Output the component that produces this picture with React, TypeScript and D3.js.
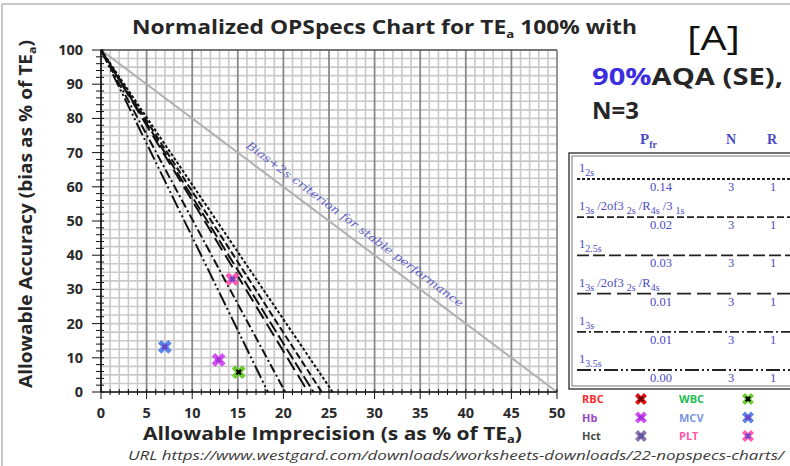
import * as d3 from "d3";

// OPSpecs operating lines: x-intercept (s as % of TEa) of each QC rule line from (0,100)
const ruleNames = ["1_2s", "multi4", "1_2.5s", "multi3", "1_3s", "1_3.5s"];
const ruleIntercepts = [25.4, 24.2, 23.3, 22.7, 20.2, 18.3];
const rulePfr = ["0.14", "0.02", "0.03", "0.01", "0.01", "0.00"];
const ruleN = ["3", "3", "3", "3", "3", "3"];
const ruleR = ["1", "1", "1", "1", "1", "1"];
const ruleDash = ["3,2", "7,3", "12,4", "14,6", "9,3,2,3", "14,3,2,3,2,3"];

// analytes plotted as (imprecision, bias)
const analytes = ["RBC", "WBC", "Hb", "MCV", "Hct", "PLT"];
const analyteS = [null, 15.1, 12.9, 7.0, 14.4, 14.4];
const analyteBias = [null, 5.8, 9.4, 13.2, 33.0, 33.0];
const analyteLabelColor = ["#ff2a2a", "#22bb55", "#9a44c8", "#7a98e0", "#4a4a4a", "#ff5aa8"];
const analyteFill = ["#e01010", "#6ccc2a", "#d050f0", "#5a86e8", "#8c78a8", "#ff5ab0"];
const analyteInner = ["#600000", "#000000", "#a030e0", "#7040c8", "#6050a0", "#6a48c8"];

const xTicks = d3.range(0, 51, 5);
const yTicks = d3.range(0, 101, 10);

const W = 790;
const H = 466;

const x = d3.scaleLinear().domain([0, 50]).range([101, 557]);
const y = d3.scaleLinear().domain([0, 100]).range([392, 50]);

const Sub = ({ children, size = 10 }: any) => (
  <tspan fontSize={size} dy={4}>
    {children}
  </tspan>
);
const Up = ({ children }: any) => (
  <tspan dy={-4} fontSize={12.5}>
    {children}
  </tspan>
);

const ruleLabel = (i: number) => {
  switch (i) {
    case 0:
      return [<tspan key="a">1</tspan>, <Sub key="b">2s</Sub>];
    case 1:
      return [
        <tspan key="a">1</tspan>,
        <Sub key="b">3s</Sub>,
        <Up key="c"> /2of3 </Up>,
        <Sub key="d">2s</Sub>,
        <Up key="e"> /R</Up>,
        <Sub key="f">4s</Sub>,
        <Up key="g"> /3 </Up>,
        <Sub key="h">1s</Sub>,
      ];
    case 2:
      return [<tspan key="a">1</tspan>, <Sub key="b">2.5s</Sub>];
    case 3:
      return [
        <tspan key="a">1</tspan>,
        <Sub key="b">3s</Sub>,
        <Up key="c"> /2of3 </Up>,
        <Sub key="d">2s</Sub>,
        <Up key="e"> /R</Up>,
        <Sub key="f">4s</Sub>,
      ];
    case 4:
      return [<tspan key="a">1</tspan>, <Sub key="b">3s</Sub>];
    default:
      return [<tspan key="a">1</tspan>, <Sub key="b">3.5s</Sub>];
  }
};

const Marker = ({ cx, cy, fill, inner, size = 110 }: any) => {
  const path = d3.symbol().type(d3.symbolCross).size(size)() as string;
  return (
    <g transform={`translate(${cx},${cy}) rotate(45)`}>
      <path d={path} fill={fill} />
      <path d="M-3.2,0H3.2M0,-3.2V3.2" stroke={inner} strokeWidth={2.2} />
    </g>
  );
};

export default function App() {
  const blue = "#4b4bc4";
  const sans = "'Open Sans', sans-serif";
  const minorX = d3.range(0, 50.01, 1);
  const minorY = d3.range(0, 100.01, 2.5);

  // diagonal "Bias+2s" label placement, just above the line
  const angle = (Math.atan2(y(0) - y(100), x(50) - x(0)) * 180) / Math.PI;
  const lx = x(27.85);
  const ly = y(49.1);

  return (
    <svg
      width={W}
      height={H}
      style={{ position: "absolute", left: 0, top: 0, background: "#fff" }}
    >
      <rect x={2} y={4} width={W + 10} height={H + 10} fill="none" stroke="#b8b8b8" strokeWidth={1.5} />

      {/* title */}
      <text
        x={132}
        y={34}
        textLength={505}
        lengthAdjust="spacingAndGlyphs"
        fontFamily={sans}
        fontWeight="bold"
        fontSize={19}
        fill="#262626"
      >
        Normalized OPSpecs Chart for TE
        <tspan fontSize={11} dy={4}>a</tspan>
        <tspan dy={-4}> 100% with</tspan>
      </text>
      <text x={687} y={50} fontFamily={sans} fontSize={32} textLength={53} lengthAdjust="spacingAndGlyphs" fill="#111">
        [A]
      </text>
      <text x={592} y={85} fontFamily={sans} fontWeight="bold" fontSize={24} textLength={191} lengthAdjust="spacingAndGlyphs" fill="#262626">
        <tspan fill="#3a2ee0">90%</tspan>AQA (SE),
      </text>
      <text x={592} y={119} fontFamily={sans} fontWeight="bold" fontSize={24} fill="#262626">
        N=3
      </text>

      {/* grid */}
      <g>
        {minorY.map((v) => (
          <line key={"gy" + v} x1={x(0)} x2={x(50)} y1={y(v)} y2={y(v)} stroke="#c9c9c9" strokeWidth={1.6} />
        ))}
        {minorX.map((v) => (
          <line
            key={"gx" + v}
            x1={x(v)}
            x2={x(v)}
            y1={y(0)}
            y2={y(100)}
            stroke={v % 5 === 0 ? "#8a8a8a" : "#c9c9c9"}
            strokeWidth={v % 5 === 0 ? 1.8 : 1.6}
          />
        ))}
        <line x1={x(0)} x2={x(50)} y1={y(100)} y2={y(100)} stroke="#555" strokeWidth={1.5} />
      </g>

      {/* bias + 2s line */}
      <line x1={x(0)} y1={y(100)} x2={x(50)} y2={y(0)} stroke="#b0b0b0" strokeWidth={2} />
      <text
        transform={`translate(${lx},${ly}) rotate(${angle})`}
        textAnchor="middle"
        dy={4}
        textLength={268}
        lengthAdjust="spacingAndGlyphs"
        fontFamily="'DejaVu Serif', serif"
        fontStyle="italic"
        fontSize={11}
        fill={blue}
        opacity={0.85}
      >
        Bias+2s criterion for stable performance
      </text>

      {/* operating lines */}
      {ruleIntercepts.map((xi, i) => (
        <line
          key={ruleNames[i]}
          x1={x(0)}
          y1={y(100)}
          x2={x(xi)}
          y2={y(0)}
          stroke="#111"
          strokeWidth={2}
          strokeDasharray={ruleDash[i]}
        />
      ))}

      {/* axes */}
      <g stroke="#111">
        <line x1={x(0)} x2={x(50)} y1={y(0)} y2={y(0)} strokeWidth={1.5} />
        <line x1={x(0)} x2={x(0)} y1={y(0)} y2={y(100)} strokeWidth={1.5} />
        {minorX.map((v) => (
          <line
            key={"tx" + v}
            x1={x(v)}
            x2={x(v)}
            y1={y(0) - 3}
            y2={y(0) + (v % 5 === 0 ? 7 : 3)}
            strokeWidth={1}
          />
        ))}
        {d3.range(0, 100.01, 2).map((v) => (
          <line
            key={"ty" + v}
            x1={x(0) - (v % 10 === 0 ? 9 : 5)}
            x2={x(0) + 3}
            y1={y(v)}
            y2={y(v)}
            strokeWidth={1}
          />
        ))}
      </g>
      <g fontFamily={sans} fontWeight="bold" fontSize={14.5} fill="#2a2a2a">
        {xTicks.map((v) => (
          <text key={"lx" + v} x={x(v)} y={418} textAnchor="middle">
            {v}
          </text>
        ))}
        {yTicks.map((v) => (
          <text key={"ly" + v} x={83} y={y(v) + 5} textAnchor="end">
            {v}
          </text>
        ))}
      </g>
      <text
        transform={`translate(32,${388}) rotate(-90)`}
        textLength={348}
        lengthAdjust="spacingAndGlyphs"
        fontFamily={sans}
        fontWeight="bold"
        fontSize={17}
        fill="#262626"
      >
        Allowable Accuracy (bias as % of TE
        <tspan fontSize={11} dy={4}>a</tspan>
        <tspan dy={-4}>)</tspan>
      </text>
      <text
        x={143}
        y={440}
        textLength={379}
        lengthAdjust="spacingAndGlyphs"
        fontFamily={sans}
        fontWeight="bold"
        fontSize={18}
        fill="#262626"
      >
        Allowable Imprecision (s as % of TE
        <tspan fontSize={11} dy={3}>a</tspan>
        <tspan dy={-3}>)</tspan>
      </text>
      <text
        x={128}
        y={460}
        textLength={656}
        lengthAdjust="spacingAndGlyphs"
        fontFamily={sans}
        fontStyle="italic"
        fontSize={12.5}
        fill="#3a3a3a"
      >
        URL https://www.westgard.com/downloads/worksheets-downloads/22-nopspecs-charts/
      </text>

      {/* analyte points */}
      {analytes.map((a, i) =>
        analyteS[i] == null ? null : (
          <Marker
            key={"p" + a}
            cx={x(analyteS[i] as number)}
            cy={y(analyteBias[i] as number)}
            fill={analyteFill[i]}
            inner={analyteInner[i]}
            size={a === "Hct" ? 60 : 120}
          />
        )
      )}

      {/* rule table */}
      <g fontFamily="'Liberation Serif', 'DejaVu Serif', serif" fontWeight="bold" fill={blue}>
        <text x={640} y={144} fontSize={15}>
          P<tspan fontSize={10} dy={4}>fr</tspan>
        </text>
        <text x={726} y={144} fontSize={14}>N</text>
        <text x={767} y={144} fontSize={14}>R</text>
      </g>
      <rect x={569} y={153} width={240} height={236} fill="none" stroke="#444" strokeWidth={1.5} />
      <rect x={572} y={156} width={240} height={230} fill="none" stroke="#777" strokeWidth={1} />
      {ruleNames.map((r, i) => {
        const top = 160 + i * 38.2;
        return (
          <g key={"row" + r}>
            <text x={579} y={top + 12} fontFamily="'Liberation Serif', serif" fontSize={12.5} fill={blue}>
              {ruleLabel(i)}
            </text>
            <line x1={577} x2={790} y1={top + 19} y2={top + 19} stroke="#222" strokeWidth={1.8} strokeDasharray={ruleDash[i]} />
            <g fontFamily="'Liberation Serif', serif" fontSize={12.5} fill={blue} textAnchor="middle">
              <text x={661} y={top + 31}>{rulePfr[i]}</text>
              <text x={731} y={top + 31}>{ruleN[i]}</text>
              <text x={773} y={top + 31}>{ruleR[i]}</text>
            </g>
          </g>
        );
      })}

      {/* analyte legend */}
      {analytes.map((a, i) => {
        const col = i % 2;
        const row = Math.floor(i / 2);
        const cy = 399 + row * 18.5;
        return (
          <g key={"lg" + a}>
            <text
              x={col === 0 ? 582 : 679}
              y={cy + 4}
              fontFamily={sans}
              fontWeight="bold"
              fontSize={11}
              fill={analyteLabelColor[i]}
            >
              {a}
            </text>
            <Marker cx={col === 0 ? 641 : 748} cy={cy} fill={analyteFill[i]} inner={analyteInner[i]} size={90} />
          </g>
        );
      })}
    </svg>
  );
}
